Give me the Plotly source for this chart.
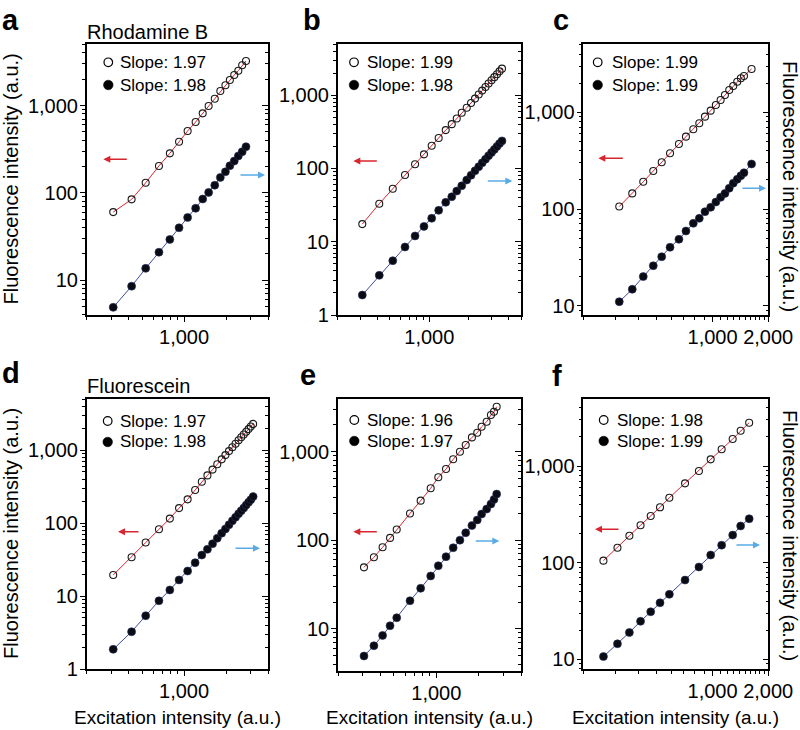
import math
import plotly.graph_objects as go

W, H = 800, 730

# ---------------- data ----------------
xa = [310, 420, 530, 660, 790, 920, 1060, 1210, 1360, 1500, 1660, 1820, 1980, 2130, 2290, 2450, 2610, 2780]
ya_open = [60, 84, 130, 203, 283, 385, 510, 647, 813, 986, 1197, 1466, 1706, 1960, 2240, 2506, 2890, 3236]
ya_fill = [4.86, 8.5, 13.6, 20.8, 29.2, 39.7, 52.2, 66.4, 84.8, 101, 122, 150, 174, 204, 231, 264, 295, 337]

xb = [308, 415, 526, 652, 778, 910, 1042, 1178, 1333, 1482, 1618, 1766, 1928, 2080, 2230, 2380, 2530, 2680,
      2830, 2980, 3130, 3280, 3430, 3580]
yb_open = [17.4, 33.0, 52.8, 81.3, 114, 156, 204, 260, 334, 403, 482, 575, 673, 783, 899, 1024, 1156, 1297,
           1446, 1601, 1765, 1936, 2117, 2305]
yb_fill = [1.87, 3.48, 5.51, 8.47, 12.0, 16.2, 20.9, 26.8, 34.5, 41.1, 49.2, 58.1, 69.5, 80.8, 92.9, 105.7,
           119.4, 133.9, 149.3, 165.3, 182.2, 200, 218.6, 238]

xc = [313, 368, 422, 478, 531, 589, 658, 718, 787, 848, 910, 977, 1042, 1106, 1167, 1231, 1294, 1360, 1423, 1479, 1626]
yc_open = [106, 145, 191, 247, 304, 377, 470, 560, 667, 769, 901, 1040, 1189, 1340, 1510, 1702, 1871, 2070,
           2250, 2372, 2805]
yc_fill = [11.0, 14.8, 20.0, 25.9, 32.1, 40.2, 48.6, 59.2, 71.1, 80.1, 93.8, 104, 118, 132, 145, 164, 185,
           203, 221, 237, 292]

xd = [310, 420, 530, 660, 790, 920, 1060, 1200, 1340, 1470, 1600, 1730, 1860, 1980, 2100, 2220, 2340, 2460,
      2570, 2680, 2790, 2900, 3010, 3130]
yd_open = [19.4, 34, 54, 82, 115, 160, 211, 283, 368, 449, 539, 637, 745, 852, 967, 1090, 1220, 1359, 1493,
           1633, 1781, 1935, 2097, 2281]
yd_fill = [1.86, 3.24, 5.37, 8.6, 12.1, 16.6, 22, 28.6, 36.4, 43.6, 52, 62, 72.5, 83, 94.5, 107, 120, 134,
           147, 161, 176, 192, 209, 230]

xe = [306, 360, 415, 469, 523, 650, 774, 912, 1033, 1172, 1318, 1472, 1618, 1791, 1954, 2099, 2280, 2445, 2570, 2686]
ye_open = [49.3, 64, 83, 106, 132, 200, 279, 385, 512, 634, 817, 995, 1183, 1445, 1629, 1905, 2168, 2582, 2812, 3205]
ye_fill = [4.92, 6.43, 8.41, 10.8, 13.3, 20.7, 28.6, 39.4, 51.4, 65, 82, 100, 121, 146, 169, 197, 224, 255, 288, 331]

xf = [257, 306, 355, 408, 463, 520, 584, 710, 844, 977, 1120, 1285, 1419, 1578]
yf_open = [105, 143, 190, 244, 304, 374, 470, 662, 887, 1172, 1489, 1901, 2317, 2805]
yf_fill = [10.7, 14.5, 19.0, 24.8, 31.1, 38.5, 47.1, 66.2, 90.3, 120, 152, 193, 240, 285]

slopes_open = ["1.97", "1.99", "1.99", "1.97", "1.96", "1.98"]
slopes_fill = ["1.98", "1.98", "1.99", "1.98", "1.97", "1.99"]
panel_letters = ["a", "b", "c", "d", "e", "f"]
dye_names = {0: "Rhodamine B", 3: "Fluorescein"}

y_tick_vals = [1, 10, 100, 1000]
y_tick_text = ["1", "10", "100", "1,000"]
x_tick_vals_wide = [1000]
x_tick_text_wide = ["1,000"]
x_tick_vals_narrow = [1000, 2000]
x_tick_text_narrow = ["1,000", "2,000"]

y_title = "Fluorescence intensity (a.u.)"
x_title = "Excitation intensity (a.u.)"

xs = [xa, xb, xc, xd, xe, xf]
y_opens = [ya_open, yb_open, yc_open, yd_open, ye_open, yf_open]
y_fills = [ya_fill, yb_fill, yc_fill, yd_fill, ye_fill, yf_fill]

# ---------------- geometry (pixels) ----------------
boxes = [(86.7, 268, 44, 315), (337.7, 521, 44, 315), (583.3, 768.3, 44, 315),
         (86.7, 268, 399, 669), (338, 521, 399, 671), (583.3, 768.3, 399, 669)]
L = math.log10
xranges = [[L(200), L(4000)], [L(200), L(5000)], [L(200), L(2000) + 0.0005],
           [L(200), L(4000)], [L(200), L(4000)], [L(200), L(2000) + 0.0005]]
yranges = [[0.599, 3.705], [0.0, 3.699], [0.904, 3.706],
           [0.0, 3.699], [0.523, 3.593], [0.901, 3.693]]
narrow = [False, False, True, False, False, True]

FONT = "Liberation Sans, Arial, Helvetica, sans-serif"
RED = "#d8262e"
BLUE = "#3c4c9e"
ARROW_BLUE = "#5aaae6"

def PX(x):
    return x / W

def PY(y):
    return 1 - y / H

y_minor = [m * 10 ** k for k in range(0, 4) for m in range(2, 10)]
x_minor_wide = [m * 100 for m in range(2, 10)] + [m * 1000 for m in range(2, 10)]
x_minor_narrow = [m * 100 for m in range(2, 10)] + [1000 + 100 * m for m in range(1, 10)]

fig = go.Figure()
layout = dict(width=W, height=H, margin=dict(l=0, r=0, t=0, b=0), showlegend=False,
              plot_bgcolor="white", paper_bgcolor="white", template="none",
              font=dict(family=FONT, color="black"))

annotations = []
shapes = []

for i in range(6):
    n = i + 1
    xn = "x" if n == 1 else f"x{n}"
    yn = "y" if n == 1 else f"y{n}"
    yr = f"y{n + 6}"
    l, r, t, b = boxes[i]
    fig.add_trace(go.Scatter(x=xs[i], y=y_opens[i], xaxis=xn, yaxis=yn, mode="lines+markers",
                             line=dict(color=RED, width=1),
                             marker=dict(symbol="circle-open", size=7, color="#1a1a1a",
                                         line=dict(width=1.1))))
    fig.add_trace(go.Scatter(x=xs[i], y=y_fills[i], xaxis=xn, yaxis=yr, mode="lines+markers",
                             line=dict(color=BLUE, width=1),
                             marker=dict(symbol="circle", size=8, color="#0b0b14",
                                         line=dict(width=0.6, color="#26305a"))))
    xk = "xaxis" if n == 1 else f"xaxis{n}"
    yk = "yaxis" if n == 1 else f"yaxis{n}"
    tv = x_tick_vals_narrow if narrow[i] else x_tick_vals_wide
    tt = x_tick_text_narrow if narrow[i] else x_tick_text_wide
    xm = x_minor_narrow if narrow[i] else x_minor_wide
    layout[xk] = dict(domain=[PX(l), PX(r)], anchor=yn, type="log", range=xranges[i],
                      tickmode="array", tickvals=tv, ticktext=tt, ticks="outside", ticklen=5,
                      tickwidth=1.2, tickcolor="black", showline=True, linecolor="black",
                      linewidth=1.5, mirror=True, showgrid=False, zeroline=False,
                      ticklabelstandoff=-2, ticklabeloverflow="allow",
                      tickfont=dict(size=20, family=FONT), automargin=False,
                      minor=dict(tickmode="array", tickvals=xm, ticks="outside", ticklen=3,
                                 tickwidth=1, tickcolor="black", showgrid=False))
    layout[yk] = dict(domain=[PY(b), PY(t)], anchor=xn, type="log", range=yranges[i],
                      tickmode="array", tickvals=y_tick_vals, ticktext=y_tick_text,
                      ticks="outside", ticklen=5, tickwidth=1.2, tickcolor="black",
                      showline=True, linecolor="black", linewidth=1.5, mirror=True,
                      showgrid=False, zeroline=False, automargin=False,
                      ticklabelstandoff=-2, ticklabeloverflow="allow",
                      tickfont=dict(size=20, family=FONT),
                      minor=dict(tickmode="array", tickvals=y_minor, ticks="outside", ticklen=3,
                                 tickwidth=1, tickcolor="black", showgrid=False))
    layout[f"yaxis{n + 6}"] = dict(overlaying=yn, anchor=xn, side="right", type="log",
                                   range=yranges[i], tickmode="array", tickvals=y_tick_vals,
                                   showticklabels=False, ticks="inside", ticklen=6, tickwidth=1.2,
                                   tickcolor="black", showline=True, linecolor="black",
                                   linewidth=1.5, showgrid=False, zeroline=False, automargin=False,
                                   minor=dict(tickmode="array", tickvals=y_minor, ticks="inside",
                                              ticklen=3, tickwidth=1, tickcolor="black",
                                              showgrid=False))

# panel letters
letter_pos = [(0, 2), (301, 2), (551, 2), (0, 355), (298, 357), (550, 358)]
for i, (lx, ly) in enumerate(letter_pos):
    annotations.append(dict(text=f"<b>{panel_letters[i]}</b>", x=PX(lx), y=PY(ly), xref="paper",
                            yref="paper", xanchor="left", yanchor="top", showarrow=False,
                            font=dict(size=29, family=FONT)))

# dye names
for i, cy in [(0, 32), (3, 386)]:
    annotations.append(dict(text=dye_names[i], x=PX(85), y=PY(cy), xref="paper", yref="paper",
                            xanchor="left", yanchor="middle", showarrow=False,
                            font=dict(size=20, family=FONT)))

# y titles
for cy in [(44 + 315) / 2, (399 + 669) / 2]:
    annotations.append(dict(text=y_title, x=PX(11), y=PY(cy), xref="paper", yref="paper",
                            xanchor="center", yanchor="middle", textangle=-90, showarrow=False,
                            font=dict(size=20, family=FONT)))
for cy in [186, 535]:
    annotations.append(dict(text=y_title, x=PX(790), y=PY(cy), xref="paper", yref="paper",
                            xanchor="center", yanchor="middle", textangle=90, showarrow=False,
                            font=dict(size=20, family=FONT)))
# x titles
for i in [3, 4, 5]:
    l, r, t, b = boxes[i]
    annotations.append(dict(text=x_title, x=PX((l + r) / 2), y=PY(717), xref="paper", yref="paper",
                            xanchor="center", yanchor="middle", showarrow=False,
                            font=dict(size=19, family=FONT)))

# in-panel legends
leg = [(108.3, 62.3, 85, 118), (354, 62.3, 85, 365), (597.7, 62.3, 85, 610),
       (107.7, 421, 442, 118), (354.3, 420, 441, 365), (603.7, 420, 441, 615)]
for i, (cx, y1, y2, tx) in enumerate(leg):
    shapes.append(dict(type="circle", xref="paper", yref="paper", x0=PX(cx - 4.3), x1=PX(cx + 4.3),
                       y0=PY(y1 + 4.3), y1=PY(y1 - 4.3), line=dict(color="black", width=1.2),
                       fillcolor="white"))
    shapes.append(dict(type="circle", xref="paper", yref="paper", x0=PX(cx - 4.8), x1=PX(cx + 4.8),
                       y0=PY(y2 + 4.8), y1=PY(y2 - 4.8), line=dict(color="black", width=0.5),
                       fillcolor="black"))
    annotations.append(dict(text=f"Slope: {slopes_open[i]}", x=PX(tx), y=PY(y1), xref="paper",
                            yref="paper", xanchor="left", yanchor="middle", showarrow=False,
                            font=dict(size=17, family=FONT)))
    annotations.append(dict(text=f"Slope: {slopes_fill[i]}", x=PX(tx), y=PY(y2), xref="paper",
                            yref="paper", xanchor="left", yanchor="middle", showarrow=False,
                            font=dict(size=17, family=FONT)))

# arrows (head position, tail offset in px)
red_arrows = [(103.3, 159.3, 25), (353.3, 161, 25), (598.3, 158.3, 26),
              (118, 531.7, 22), (353.3, 531.7, 25), (595, 529.3, 25)]
blue_arrows = [(265, 175, -26), (512.3, 181, -26), (766, 188.3, -25),
               (260, 548.3, -26), (499.3, 541, -25), (760, 545, -25)]
for (hx, hy, ax), col in [(a, RED) for a in red_arrows] + [(a, ARROW_BLUE) for a in blue_arrows]:
    annotations.append(dict(text="", x=PX(hx), y=PY(hy), xref="paper", yref="paper",
                            ax=ax, ay=0, showarrow=True, arrowhead=2, arrowsize=1,
                            arrowwidth=1.4, arrowcolor=col))

layout["annotations"] = annotations
layout["shapes"] = shapes
fig.update_layout(**layout)
fig.write_html("out.html", config={"displayModeBar": False},
               post_script="document.body.style.margin='0px';document.body.style.overflow='hidden';")
